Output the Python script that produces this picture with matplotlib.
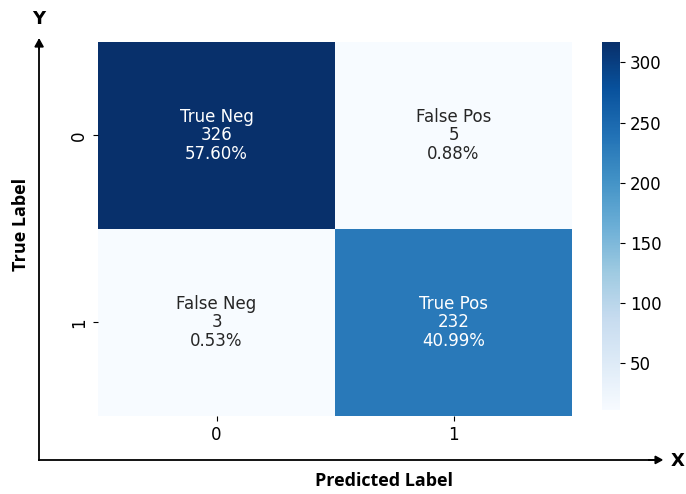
import numpy as np
import matplotlib
matplotlib.use("Agg")
import matplotlib.pyplot as plt
import seaborn as sns

group_names = ["True Neg", "False Pos", "False Neg", "True Pos"]
counts = [326, 5, 3, 232]
percentages = [57.60, 0.88, 0.53, 40.99]
tick_labels = ["0", "1"]
cbar_ticks = [50, 100, 150, 200, 250, 300]

cm = np.array(counts).reshape(2, 2)
labels = [f"{n}\n{c}\n{p:.2f}%" for n, c, p in zip(group_names, counts, percentages)]
labels = np.array(labels).reshape(2, 2)

fig = plt.figure(figsize=(6.86, 4.94), dpi=100)
ax = fig.add_axes([0.1429, 0.158, 0.691, 0.757])
cax = fig.add_axes([0.8776, 0.170, 0.0262, 0.745])

sns.heatmap(cm, annot=labels, fmt="", cmap="Blues", ax=ax, cbar_ax=cax,
            vmin=11, vmax=317,
            xticklabels=tick_labels, yticklabels=tick_labels,
            annot_kws={"fontsize": 12, "linespacing": 1.02})
ax.tick_params(labelsize=12)
cax.tick_params(labelsize=12)
cax.set_yticks(cbar_ticks)

# axis arrows drawn around the heatmap
fig.add_artist(plt.Line2D([0.057, 0.057], [0.069, 0.92], color="black", lw=1.3))
fig.add_artist(plt.Line2D([0.057, 0.955], [0.069, 0.069], color="black", lw=1.3))
fig.patches.append(matplotlib.patches.FancyArrow(0.057, 0.90, 0, 0.02, width=0.0,
                   head_width=0.012, head_length=0.015, color="black",
                   transform=fig.transFigure, length_includes_head=True))
fig.patches.append(matplotlib.patches.FancyArrow(0.945, 0.069, 0.02, 0, width=0.0,
                   head_width=0.015, head_length=0.01, color="black",
                   transform=fig.transFigure, length_includes_head=True))
fig.text(0.056, 0.962, "Y", ha="center", va="center", fontsize=13, fontweight="bold")
fig.text(0.988, 0.067, "X", ha="center", va="center", fontsize=13, fontweight="bold")
fig.text(0.03, 0.545, "True Label", rotation=90, ha="center", va="center",
         fontsize=13, fontweight="bold", family="Open Sans")
fig.text(0.56, 0.026, "Predicted Label", ha="center", va="center",
         fontsize=13, fontweight="bold", family="Open Sans")

fig.savefig("out.png", dpi=100)
